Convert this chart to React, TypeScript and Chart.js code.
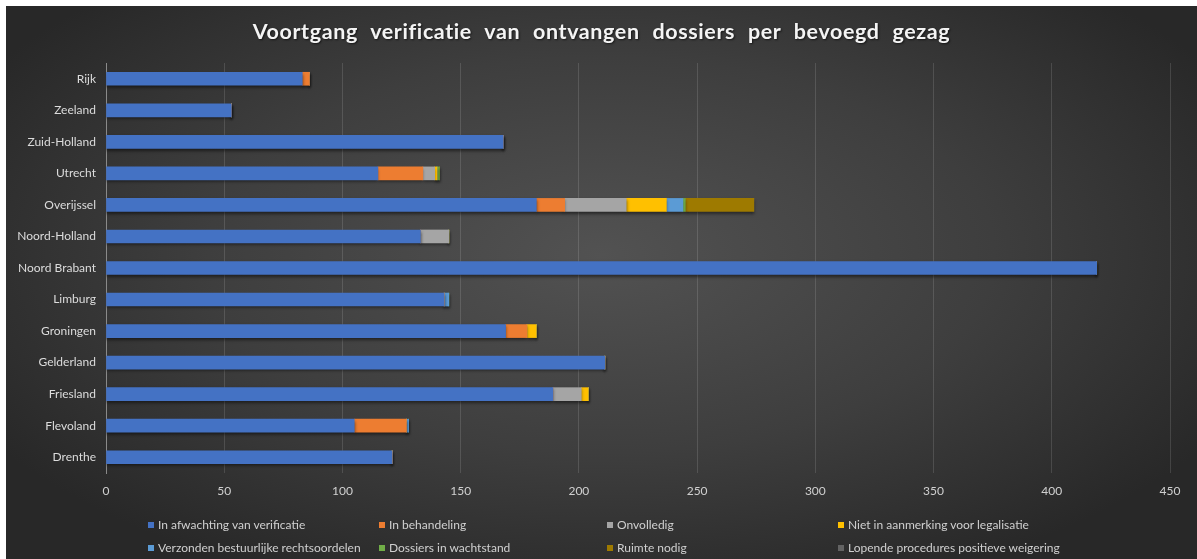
import React, { useEffect, useRef } from "react";
import { Chart, registerables } from "chart.js";

Chart.register(...registerables);

const categories = ["Rijk", "Zeeland", "Zuid-Holland", "Utrecht", "Overijssel", "Noord-Holland", "Noord Brabant", "Limburg", "Groningen", "Gelderland", "Friesland", "Flevoland", "Drenthe"];

const afwachting = [83, 53, 168, 115, 182, 133, 419, 143, 169, 211, 189, 105, 121];
const behandeling = [3, 0, 0, 19, 12, 0, 0, 0, 9, 0, 0, 22, 0];
const onvolledig = [0, 0, 0, 5, 26, 12, 0, 0, 0, 0, 12, 0, 0];
const nietLegalisatie = [0, 0, 0, 1, 17, 0, 0, 0, 4, 0, 3, 0, 0];
const verzonden = [0, 0, 0, 0, 7, 0, 0, 2, 0, 0, 0, 1, 0];
const wachtstand = [0, 0, 0, 1, 1, 0, 0, 0, 0, 0, 0, 0, 0];
const ruimteNodig = [0, 0, 0, 0, 29, 0, 0, 0, 0, 0, 0, 0, 0];
const lopende = [0, 0, 0, 0, 0, 0, 0, 0, 0, 0, 0, 0, 0];

const seriesNames = [
  "In afwachting van verificatie",
  "In behandeling",
  "Onvolledig",
  "Niet in aanmerking voor legalisatie",
  "Verzonden bestuurlijke rechtsoordelen",
  "Dossiers in wachtstand",
  "Ruimte nodig",
  "Lopende procedures positieve weigering",
];
const seriesData = [afwachting, behandeling, onvolledig, nietLegalisatie, verzonden, wachtstand, ruimteNodig, lopende];
const seriesColors = ["#4472C4", "#ED7D31", "#A5A5A5", "#FFC000", "#5B9BD5", "#70AD47", "#9E7A00", "#636363"];

const xTicks = [0, 50, 100, 150, 200, 250, 300, 350, 400, 450];

const FONT = "Lato, 'Open Sans', sans-serif";

const shadowPlugin = {
  id: "barShadow",
  beforeDatasetsDraw(chart: any) {
    const ctx = chart.ctx;
    ctx.save();
    ctx.shadowColor = "rgba(0,0,0,0.5)";
    ctx.shadowBlur = 3;
    ctx.shadowOffsetX = 0;
    ctx.shadowOffsetY = 2;
  },
  afterDatasetsDraw(chart: any) {
    chart.ctx.restore();
  },
};

export default function App() {
  const canvasRef = useRef<HTMLCanvasElement | null>(null);

  useEffect(() => {
    if (!canvasRef.current) return;
    const chart = new Chart(canvasRef.current, {
      type: "bar",
      data: {
        labels: categories,
        datasets: seriesNames.map((name, i) => ({
          label: name,
          data: seriesData[i],
          backgroundColor: seriesColors[i],
          borderWidth: 0,
          barThickness: 13,
          stack: "s",
        })),
      },
      options: {
        indexAxis: "y",
        animation: false,
        responsive: true,
        maintainAspectRatio: false,
        layout: { padding: { top: 57, left: 0, right: 27, bottom: 56 } },
        plugins: {
          legend: { display: false },
          title: { display: false },
          tooltip: { enabled: false },
        },
        scales: {
          x: {
            stacked: true,
            min: 0,
            max: 450,
            afterFit: (s: any) => { s.height = 30; },
            afterBuildTicks: (s: any) => { s.ticks = xTicks.map((v) => ({ value: v })); },
            grid: { color: "rgba(255,255,255,0.13)", drawTicks: false, lineWidth: 1 },
            border: { display: false },
            ticks: { color: "#d0d0d0", font: { family: FONT, size: 12 }, padding: 11 },
          },
          y: {
            stacked: true,
            afterFit: (s: any) => { s.width = 100; },
            grid: { display: false, drawTicks: false },
            border: { display: true, color: "#8a8a8a", width: 1 },
            ticks: { color: "#dcdcdc", font: { family: FONT, size: 12 }, padding: 10 },
          },
        },
      },
      plugins: [shadowPlugin],
    } as any);
    return () => chart.destroy();
  }, []);

  const legendCols = [142, 373, 601, 832];
  const legendRows = [511, 534];

  return (
    <div
      style={{
        position: "absolute",
        left: 6,
        top: 6,
        width: 1191,
        height: 553,
        background: "radial-gradient(ellipse 60% 65% at 50% 45%, #525252 0%, #3e3e3e 55%, #282828 100%)",
        fontFamily: FONT,
        overflow: "hidden",
      }}
    >
      <canvas ref={canvasRef} style={{ position: "absolute", left: 0, top: 0, width: 1191, height: 553 }} />
      <div
        style={{
          position: "absolute",
          left: 0,
          top: 12,
          width: 1191,
          textAlign: "center",
          color: "#f4f4f4",
          fontWeight: 700,
          fontSize: 21.5,
          letterSpacing: 0.6,
          wordSpacing: 7,
          textShadow: "1px 1px 2px rgba(0,0,0,0.6)",
        }}
      >
        Voortgang verificatie van ontvangen dossiers per bevoegd gezag
      </div>
      {seriesNames.map((name, i) => (
        <div
          key={name}
          style={{
            position: "absolute",
            left: legendCols[i % 4],
            top: legendRows[Math.floor(i / 4)],
            display: "flex",
            alignItems: "center",
            color: "#d0d0d0",
            fontSize: 12,
            whiteSpace: "nowrap",
            lineHeight: "15px",
          }}
        >
          <span style={{ display: "inline-block", width: 6, height: 6, background: seriesColors[i], marginRight: 4 }} />
          {name}
        </div>
      ))}
    </div>
  );
}
